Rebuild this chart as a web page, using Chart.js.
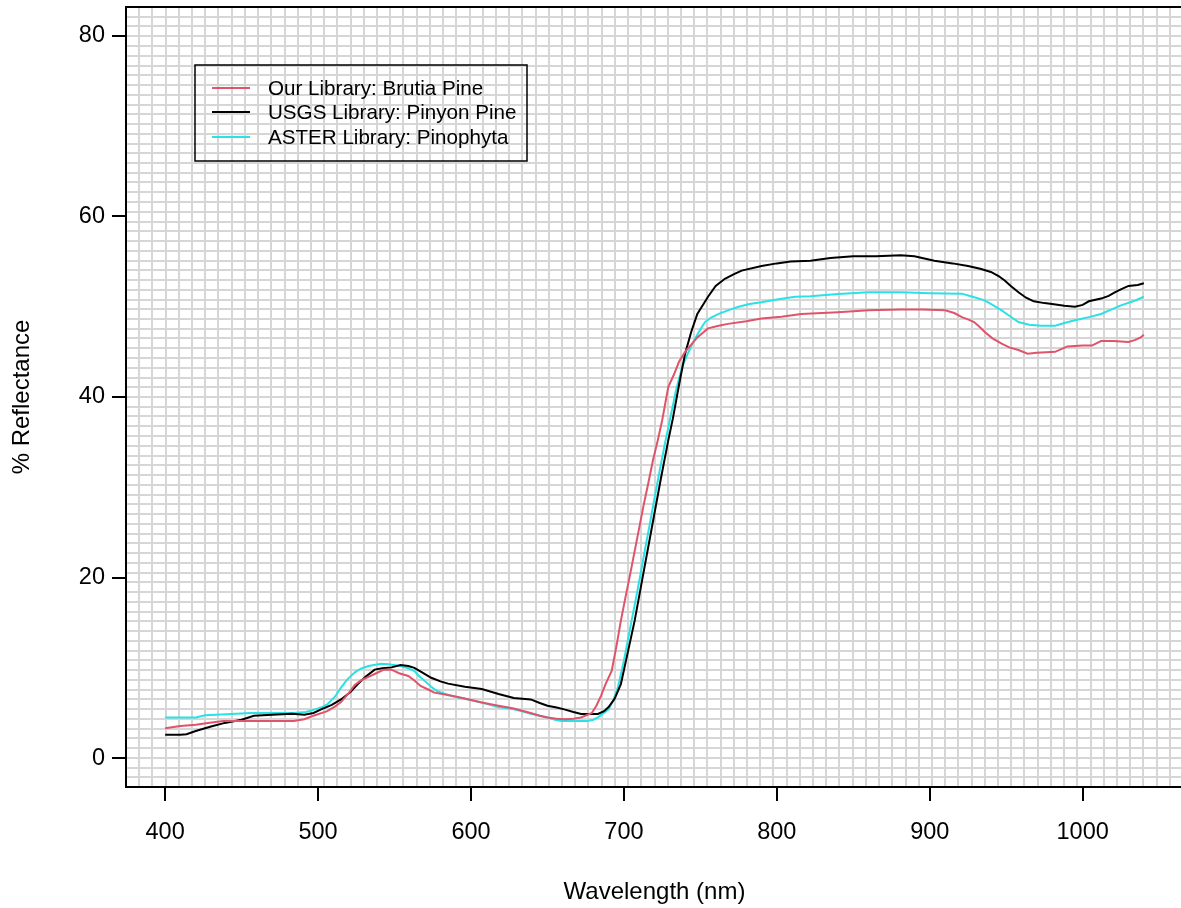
<!DOCTYPE html>
<html>
<head>
<meta charset="utf-8">
<title>Conifer reflectance spectra</title>
<script src="https://cdn.jsdelivr.net/npm/chart.js@4.4.1/dist/chart.umd.min.js"></script>
<style>
  html, body { margin: 0; padding: 0; background: #fff; overflow: hidden; }
  #wrap { width: 1195px; height: 908px; }
</style>
</head>
<body>
<div id="wrap"><canvas id="spectra" width="1195" height="908"></canvas></div>
<script>
// Our Library: Brutia Pine
const brutiaNm = [400, 410, 420, 428, 438, 450, 470, 484, 491, 497, 506, 511, 515, 520, 524, 528, 533, 538, 543, 548, 553, 559, 563, 567, 572, 576, 585, 596, 607, 618, 628, 639, 645, 650, 656, 661, 667, 672, 679, 682, 685, 688, 692, 695, 698, 701, 704, 707, 710, 713, 716, 719, 722, 725, 729, 733, 736, 740, 744, 748, 755, 762, 768, 780, 790, 803, 816, 840, 860, 881, 895, 910, 916, 921, 925, 929, 933, 936, 941, 947, 952, 958, 964, 970, 982, 986, 990, 1000, 1006, 1012, 1020, 1030, 1034, 1038, 1040];
const brutiaPct = [3.3, 3.55, 3.7, 3.9, 4.1, 4.1, 4.1, 4.1, 4.3, 4.7, 5.2, 5.7, 6.2, 7.2, 8.1, 8.6, 9.0, 9.4, 9.8, 9.8, 9.4, 9.1, 8.6, 8.0, 7.6, 7.25, 7.0, 6.6, 6.15, 5.8, 5.5, 5.0, 4.7, 4.5, 4.35, 4.3, 4.35, 4.5, 5.0, 5.8, 6.9, 8.2, 9.65, 12.3, 15.2, 17.8, 20.3, 22.9, 25.5, 28.1, 30.5, 33.0, 35.1, 37.4, 41.1, 42.6, 43.9, 45.0, 45.8, 46.6, 47.6, 47.9, 48.1, 48.4, 48.7, 48.9, 49.2, 49.4, 49.6, 49.7, 49.7, 49.6, 49.3, 48.85, 48.6, 48.3, 47.7, 47.2, 46.5, 45.9, 45.5, 45.2, 44.8, 44.9, 45.0, 45.3, 45.6, 45.7, 45.7, 46.2, 46.2, 46.1, 46.3, 46.6, 46.9];

// USGS Library: Pinyon Pine
const pinyonNm = [400, 410, 414, 420, 430, 439, 450, 458, 470, 483, 491, 497, 502, 509, 515, 521, 526, 531, 537, 542, 548, 554, 559, 563, 568, 574, 580, 585, 596, 607, 612, 618, 628, 639, 645, 650, 656, 661, 667, 672, 683, 687, 690, 694, 698, 702, 707, 712, 718, 724, 729, 732, 736, 740, 744, 748, 755, 760, 766, 772, 777, 790, 800, 809, 822, 835, 850, 865, 881, 890, 903, 915, 925, 933, 940, 945, 949, 953, 958, 963, 968, 975, 980, 988, 995, 1000, 1004, 1012, 1017, 1021, 1026, 1030, 1036, 1040];
const pinyonPct = [2.6, 2.6, 2.65, 3.0, 3.5, 3.9, 4.25, 4.7, 4.8, 4.9, 4.8, 5.0, 5.4, 5.9, 6.5, 7.3, 8.2, 9.0, 9.8, 9.95, 10.05, 10.3, 10.2, 10.0, 9.5, 8.9, 8.5, 8.25, 7.9, 7.65, 7.4, 7.1, 6.65, 6.5, 6.1, 5.8, 5.6, 5.4, 5.1, 4.9, 4.9, 5.2, 5.65, 6.6, 8.2, 11.3, 15.2, 19.8, 25.3, 30.8, 35.2, 37.6, 41.3, 44.8, 47.2, 49.2, 51.1, 52.3, 53.1, 53.6, 54.0, 54.5, 54.8, 55.0, 55.1, 55.4, 55.6, 55.6, 55.7, 55.6, 55.1, 54.8, 54.5, 54.2, 53.85, 53.4, 52.9, 52.3, 51.6, 51.0, 50.6, 50.4, 50.3, 50.1, 50.0, 50.2, 50.6, 50.9, 51.2, 51.6, 52.0, 52.3, 52.4, 52.6];

// ASTER Library: Pinophyta
const pinophytaNm = [400, 420, 426, 440, 456, 470, 484, 492, 498, 502, 506, 511, 515, 519, 524, 528, 533, 541, 546, 554, 559, 563, 566, 570, 574, 578, 585, 591, 598, 607, 618, 628, 634, 639, 645, 650, 655, 659, 668, 676, 680, 683, 686, 690, 693, 696, 700, 705, 708, 711, 714, 717, 720, 723, 727, 730, 734, 738, 742, 746, 750, 753, 757, 762, 768, 775, 782, 790, 800, 812, 822, 840, 860, 881, 900, 921, 928, 936, 941, 947, 952, 958, 965, 973, 982, 988, 995, 1004, 1012, 1019, 1025, 1033, 1040];
const pinophytaPct = [4.5, 4.5, 4.75, 4.85, 5.0, 5.0, 5.0, 5.1, 5.4, 5.6, 5.95, 6.8, 7.8, 8.7, 9.5, 9.9, 10.2, 10.45, 10.4, 10.2, 9.95, 9.65, 9.1, 8.5, 7.9, 7.4, 7.0, 6.75, 6.5, 6.15, 5.65, 5.4, 5.15, 4.9, 4.7, 4.5, 4.25, 4.1, 4.1, 4.1, 4.25, 4.5, 4.9, 5.4, 6.4, 7.8, 10.8, 15.2, 17.8, 20.5, 23.3, 26.0, 28.8, 31.5, 35.0, 37.4, 40.7, 43.3, 44.9, 46.3, 47.5, 48.3, 48.8, 49.2, 49.6, 50.0, 50.3, 50.5, 50.8, 51.1, 51.15, 51.4, 51.6, 51.6, 51.5, 51.45, 51.1, 50.7, 50.2, 49.6, 49.0, 48.3, 48.0, 47.9, 47.9, 48.2, 48.5, 48.85, 49.2, 49.7, 50.15, 50.6, 51.1];

const xTicks = [400, 500, 600, 700, 800, 900, 1000];
const yTicks = [0, 20, 40, 60, 80];

// axis limits padded 4% either side, the way base R does it
const X_MIN = 374.4, X_MAX = 1065.6;
const Y_MIN = -3.2, Y_MAX = 83.2;
const GRID_CELLS = 80;

const FONT = '"Liberation Sans", Arial, sans-serif';
Chart.defaults.font.family = FONT;
Chart.defaults.color = '#000';

function toPoints(xs, ys) {
  return xs.map((x, i) => ({ x: x, y: ys[i] }));
}

// evenly spaced grid lines across the whole plot region
function gridTicks(scale) {
  const step = (scale.max - scale.min) / GRID_CELLS;
  const out = [];
  for (let i = 0; i <= GRID_CELLS; i++) out.push({ value: scale.min + i * step });
  scale.ticks = out;
}

// fixed axis box, and no extra room reserved for overhanging labels
function fixSize(size) {
  return s => {
    if (s.isHorizontal()) s.height = size; else s.width = size;
    s.paddingTop = 0;
    s.paddingBottom = 0;
    s.paddingLeft = 0;
    s.paddingRight = 0;
  };
}

function series(label, xs, ys, color) {
  return {
    label: label,
    data: toPoints(xs, ys),
    borderColor: color,
    borderWidth: 2,
    pointRadius: 0,
    tension: 0,
    fill: false,
    xAxisID: 'x',
    yAxisID: 'y'
  };
}

// legend box sitting inside the plot, no fill so the grid shows through
const legendBox = {
  id: 'legendBox',
  afterDraw(chart) {
    const { ctx, chartArea } = chart;
    const left = chartArea.left + 69;
    const top = chartArea.top + 58;
    const rows = [81, 105, 130];
    ctx.save();
    ctx.strokeStyle = '#000';
    ctx.lineWidth = 1.5;
    ctx.strokeRect(left, top, 332, 96);
    ctx.font = '20.6px ' + FONT;
    ctx.textBaseline = 'middle';
    ctx.textAlign = 'left';
    chart.data.datasets.forEach((ds, i) => {
      const y = chartArea.top + rows[i];
      ctx.strokeStyle = ds.borderColor;
      ctx.lineWidth = 2;
      ctx.beginPath();
      ctx.moveTo(left + 17, y);
      ctx.lineTo(left + 55, y);
      ctx.stroke();
      ctx.fillStyle = '#000';
      ctx.fillText(ds.label, left + 73, y + 1);
    });
    ctx.restore();
  }
};

new Chart(document.getElementById('spectra'), {
  type: 'line',
  data: {
    datasets: [
      series('Our Library: Brutia Pine', brutiaNm, brutiaPct, '#DF536B'),
      series('USGS Library: Pinyon Pine', pinyonNm, pinyonPct, '#000000'),
      series('ASTER Library: Pinophyta', pinophytaNm, pinophytaPct, '#28E2E5')
    ]
  },
  options: {
    responsive: false,
    devicePixelRatio: 1,
    animation: false,
    layout: { padding: { top: 7, right: 12, bottom: 0, left: 0 } },
    plugins: { legend: { display: false }, tooltip: { enabled: false } },
    scales: {
      x: {
        type: 'linear',
        position: 'bottom',
        min: X_MIN,
        max: X_MAX,
        afterBuildTicks: s => { s.ticks = xTicks.map(v => ({ value: v })); },
        afterFit: fixSize(121),
        ticks: { font: { size: 23.5 }, padding: 17, maxRotation: 0, autoSkip: false, callback: v => String(v) },
        grid: { drawOnChartArea: false, drawTicks: true, tickLength: 14, color: '#000', lineWidth: 2 },
        border: { display: true, color: '#000', width: 2 },
        title: { display: true, text: 'Wavelength (nm)', font: { size: 24 }, padding: { top: 0, bottom: 1 } }
      },
      y: {
        type: 'linear',
        position: 'left',
        min: Y_MIN,
        max: Y_MAX,
        afterBuildTicks: s => { s.ticks = yTicks.map(v => ({ value: v })); },
        afterFit: fixSize(126),
        ticks: { font: { size: 23.5 }, padding: 7, autoSkip: false, callback: v => String(v) },
        grid: { drawOnChartArea: false, drawTicks: true, tickLength: 14, color: '#000', lineWidth: 2 },
        border: { display: true, color: '#000', width: 2 },
        title: { display: true, text: '% Reflectance', font: { size: 24 }, padding: { top: 8, bottom: 0 } }
      },
      xg: {
        type: 'linear',
        position: 'top',
        min: X_MIN,
        max: X_MAX,
        afterBuildTicks: gridTicks,
        afterFit: fixSize(0),
        ticks: { display: false },
        grid: { color: '#d6d6d6', lineWidth: 2, drawTicks: false },
        border: { display: true, color: '#000', width: 2 }
      },
      yg: {
        type: 'linear',
        position: 'right',
        min: Y_MIN,
        max: Y_MAX,
        afterBuildTicks: gridTicks,
        afterFit: fixSize(0),
        ticks: { display: false },
        grid: { color: '#d6d6d6', lineWidth: 2, drawTicks: false },
        border: { display: true, color: '#000', width: 2 }
      }
    }
  },
  plugins: [legendBox]
});
</script>
</body>
</html>
